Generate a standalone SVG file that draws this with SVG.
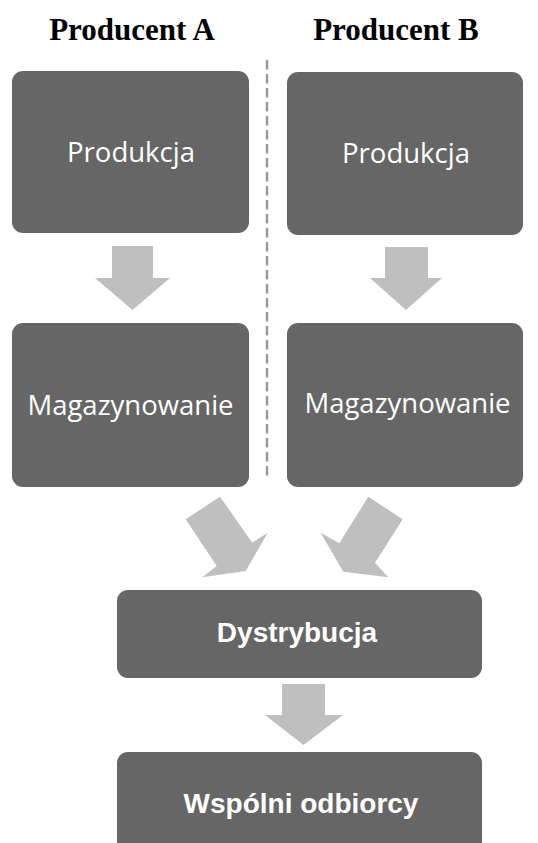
<svg xmlns="http://www.w3.org/2000/svg" width="538" height="843" viewBox="0 0 538 843">
<style>
.box{fill:#666666}
.arrow{fill:#bfbfbf}
.title{font-family:"Liberation Serif","Times New Roman",serif;font-weight:bold;font-size:31px;fill:#000;text-anchor:middle}
.lbl{font-family:"Open Sans","Noto Sans",sans-serif;font-size:27.5px;fill:#fff;text-anchor:middle}
.lblb{font-family:"Liberation Sans",Arial,sans-serif;font-weight:bold;font-size:28px;fill:#fff;text-anchor:middle}
.sep{stroke:#9a9a9a;stroke-width:2.5;stroke-dasharray:9.5 4.5;fill:none}
</style>
<rect width="538" height="843" fill="#ffffff"/>
<text class="title" x="132" y="40">Producent A</text>
<text class="title" x="396" y="40">Producent B</text>
<line class="sep" x1="267" y1="60" x2="267" y2="478"/>
<g id="produkcja-a"><rect class="box" x="12" y="71" width="237" height="162" rx="11"/><text class="lbl" x="131" y="162">Produkcja</text></g>
<g id="produkcja-b"><rect class="box" x="287" y="72" width="236" height="163" rx="11"/><text class="lbl" x="406" y="163">Produkcja</text></g>
<g id="magazynowanie-a"><rect class="box" x="12" y="323" width="237" height="164" rx="11"/><text class="lbl" x="130.5" y="415">Magazynowanie</text></g>
<g id="magazynowanie-b"><rect class="box" x="287" y="323" width="236" height="164" rx="11"/><text class="lbl" x="407.5" y="413">Magazynowanie</text></g>
<g id="dystrybucja"><rect class="box" x="117" y="590" width="365" height="88" rx="11"/><text class="lblb" x="297" y="642">Dystrybucja</text></g>
<g id="wspolni-odbiorcy"><rect class="box" x="117" y="752" width="365" height="110" rx="11"/><text class="lblb" x="301" y="813">Wspólni odbiorcy</text></g>
<g id="connectors">
<polygon class="arrow" points="112,246 153,246 153,278 170,278 132.5,310 95,278 112,278"/>
<polygon class="arrow" points="385,247 428,247 428,278 442,278 406,310 370,278 385,278"/>
<polygon class="arrow" points="220,496.7 252.3,542.7 267.7,532.7 245.7,571 202.3,577.3 216.7,566 185.7,519.3"/>
<polygon class="arrow" points="368.3,496.7 402.7,519.3 375,562.7 388.3,577.3 343.3,571.7 320.7,532.7 339.3,543.3"/>
<polygon class="arrow" points="282,684 325,684 325,715 343,715 303.5,745 265,715 282,715"/>
</g>
</svg>
